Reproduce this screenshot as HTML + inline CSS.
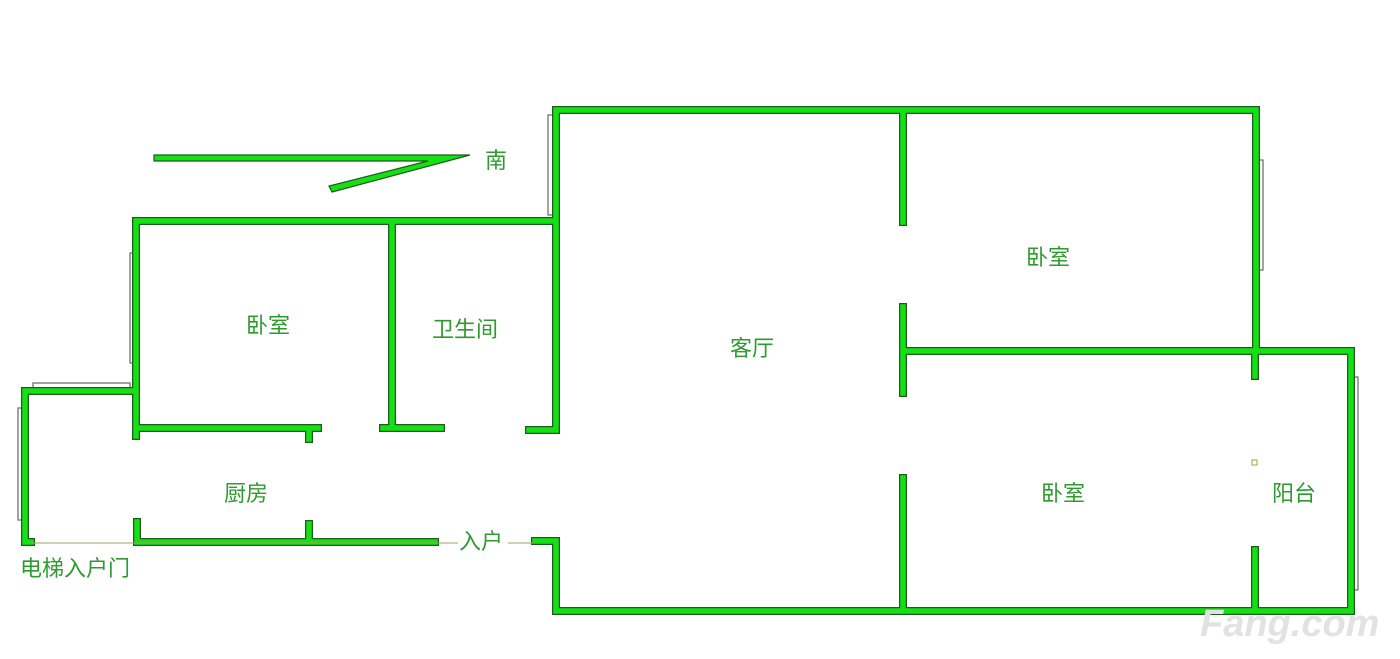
<!DOCTYPE html>
<html><head><meta charset="utf-8"><style>
html,body{margin:0;padding:0;background:#fff}
svg{display:block}
text{font-family:"Liberation Sans","Noto Sans CJK SC",sans-serif;font-size:22px;fill:#2f9a2f}
</style></head><body>
<svg width="1400" height="659" viewBox="0 0 1400 659" xmlns="http://www.w3.org/2000/svg">
<g fill="#fff" stroke="#666" stroke-width="1.2">
<rect x="548" y="115" width="7" height="100"/>
<rect x="1256" y="160" width="7" height="110"/>
<rect x="130" y="253" width="7" height="110"/>
<rect x="33" y="383" width="97" height="9"/>
<rect x="18" y="408" width="7" height="112"/>
<rect x="1349" y="377" width="9" height="213"/>
</g>
<defs>
<g id="w" fill="none" stroke-linecap="square">
<path d="M556 110H1256V350 M556 110V430H529 M903 110V222 M903 307V393 M903 478V611 M903 351H1351V611H556V541H535 M1255 351V376 M1255 550V611 M136 221H556 M136 221V436 M392 221V428H383 M392 428H441 M136 428H318 M309 428V439 M136 391H25V542H31 M137 522V542H435 M309 524V542"/>
</g>
</defs>
<use href="#w" stroke="#1f5a1f" stroke-width="8"/>
<use href="#w" stroke="#14e014" stroke-width="5.5"/>
<path d="M32 543H458 M508 543H533" stroke="#a0a060" stroke-width="1"/>
<path d="M154 155H470L332 192L329 186L428 161H154Z" fill="#14e014" stroke="#1f5a1f" stroke-width="1.2"/>
<rect x="1252" y="460" width="5" height="5" fill="none" stroke="#a0a040"/>
<text x="485" y="168">南</text>
<text x="246" y="333">卧室</text>
<text x="432" y="337">卫生间</text>
<text x="730" y="356">客厅</text>
<text x="1026" y="265">卧室</text>
<text x="1041" y="501">卧室</text>
<text x="1272" y="501">阳台</text>
<text x="224" y="501">厨房</text>
<text x="459" y="549">入户</text>
<text x="20" y="576">电梯入户门</text>
<text x="1200" y="636" style="font-size:38px;font-weight:bold;fill:#e2e2e2;font-style:italic">Fang.com</text>
</svg>
</body></html>
